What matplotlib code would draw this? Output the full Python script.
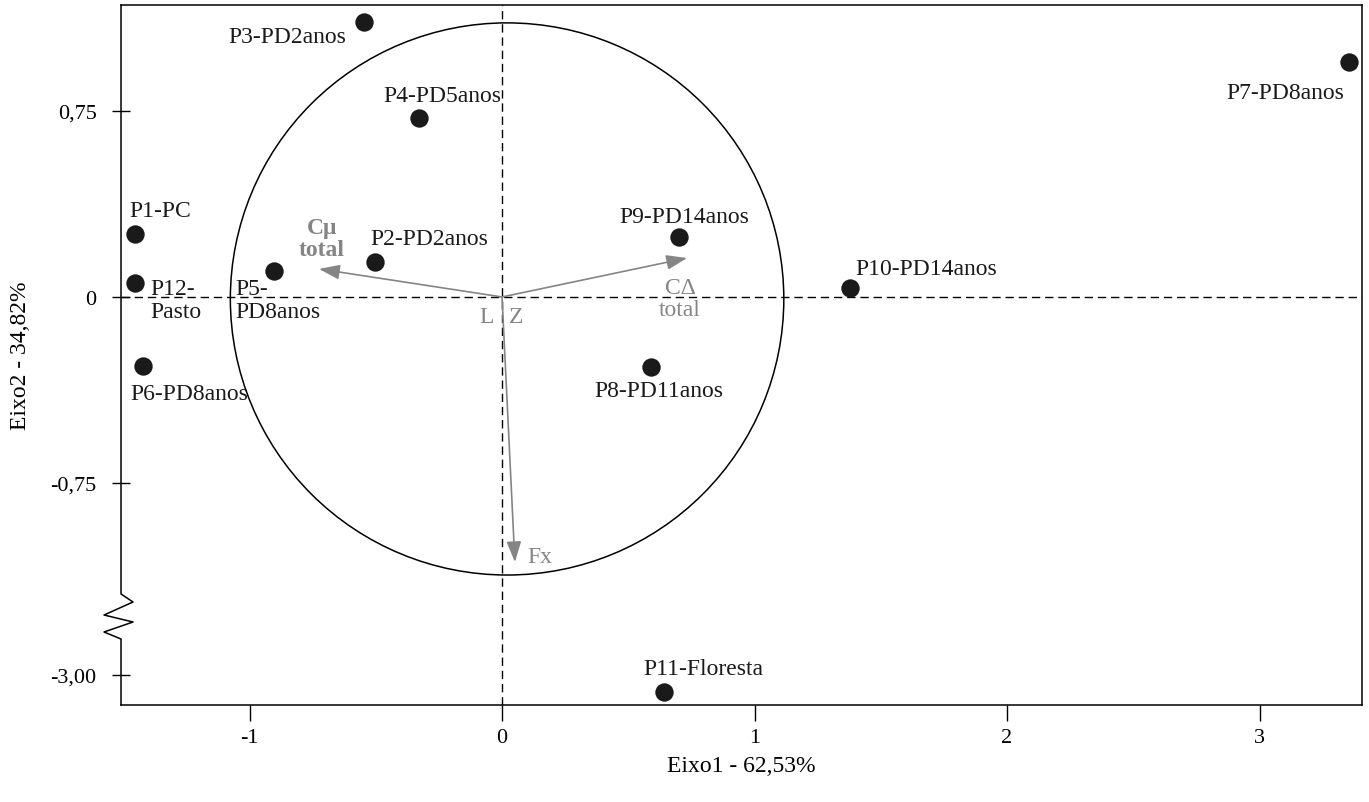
import matplotlib
matplotlib.use("Agg")
import matplotlib.pyplot as plt
from matplotlib.patches import Ellipse

plt.rcParams["font.family"] = ["Liberation Serif", "DejaVu Serif"]

# site scores (Eixo1, Eixo2); values below the axis break are real values
sites = ["P1-PC", "P2-PD2anos", "P3-PD2anos", "P4-PD5anos", "P5-\nPD8anos",
         "P6-PD8anos", "P7-PD8anos", "P8-PD11anos", "P9-PD14anos",
         "P10-PD14anos", "P11-Floresta", "P12-\nPasto"]
eixo1 = [-1.453, -0.503, -0.547, -0.329, -0.903, -1.422, 3.354, 0.590, 0.701,
         1.378, 0.642, -1.453]
eixo2 = [0.254, 0.141, 1.110, 0.722, 0.105, -0.278, 0.948, -0.282, 0.242,
         0.036, -3.069, 0.056]

# variable loadings
variables = ["C\u03bc\ntotal", "C\u0394\ntotal", "Fx", "L", "Z"]
load1 = [-0.725, 0.733, 0.051, 0.0, 0.0]
load2 = [0.113, 0.157, -1.069, 0.0, 0.0]

yticks = [0.75, 0, -0.75, -3.00]
ytick_labels = ["0,75", "0", "-0,75", "-3,00"]
xticks = [-1, 0, 1, 2, 3]

# axis break: values at/below -3.00 are drawn shifted up by this amount
BREAK_SHIFT = 1.476


def to_display(y):
    return y + BREAK_SHIFT if y < -1.5 else y


# label placement (offset in points, alignment)
site_offsets = {
    "P1-PC": (18, 17, "center"), "P2-PD2anos": (39, 17, "center"),
    "P3-PD2anos": (-55, -11, "center"), "P4-PD5anos": (17, 16, "center"),
    "P5-\nPD8anos": (-28, -21, "left"), "P6-PD8anos": (33, -20, "center"),
    "P7-PD8anos": (-46, -22, "center"), "P8-PD11anos": (6, -17, "center"),
    "P9-PD14anos": (4, 15, "center"), "P10-PD14anos": (4, 14, "left"),
    "P11-Floresta": (28, 17, "center"), "P12-\nPasto": (11, -12, "left"),
}
var_offsets = {
    "C\u03bc\ntotal": (2, 22, "center"), "C\u0394\ntotal": (-5, -29, "center"),
    "Fx": (9, 4, "left"), "L": (-11, -14, "center"), "Z": (10, -14, "center"),
}

fig = plt.figure(figsize=(13.69, 8.03), dpi=100)
ax = fig.add_axes([0.0884, 0.1208, 0.9065, 0.8717])

ax.axhline(0, color="black", lw=1, dashes=(6, 3.5), zorder=1)
ax.axvline(0, color="black", lw=1, dashes=(6, 3.5), zorder=1)

ax.add_patch(Ellipse((0.02, -0.008), 2 * 1.096, 2 * 1.113, fill=False,
                     edgecolor="black", lw=1.1, zorder=1))

gray = "#858585"
for name, lx, ly in zip(variables, load1, load2):
    if abs(lx) + abs(ly) > 0.05:
        ax.annotate("", xy=(lx, ly), xytext=(0, 0),
                    arrowprops=dict(arrowstyle="-|>,head_length=0.9,head_width=0.32",
                                    mutation_scale=14, color=gray, lw=1.2,
                                    shrinkA=0, shrinkB=0), zorder=2)
    dx, dy, ha = var_offsets[name]
    ax.annotate(name, xy=(lx, ly), xytext=(dx, dy), textcoords="offset points",
                ha=ha, va="center", color=gray, fontsize=17, linespacing=1.05,
                fontweight="bold" if "\u03bc" in name else "normal")

ys = [to_display(v) for v in eixo2]
ax.scatter(eixo1, ys, s=175, color="#1a1a1a", zorder=3, linewidths=0)
for name, x, y in zip(sites, eixo1, ys):
    dx, dy, ha = site_offsets[name]
    ax.annotate(name, xy=(x, y), xytext=(dx, dy), textcoords="offset points",
                ha=ha, va="center", fontsize=17, color="#1a1a1a",
                linespacing=1.1)

ax.set_xlim(-1.509, 3.406)
ax.set_ylim(-1.645, 1.177)
ax.set_xticks(xticks)
ax.set_xticklabels([str(t) for t in xticks])
ax.set_yticks([to_display(t) if t < -1.5 else t for t in yticks])
ax.set_yticklabels(ytick_labels)
ax.tick_params(axis="x", direction="out", length=11.5, width=1, labelsize=16, pad=5)
ax.tick_params(axis="y", direction="inout", length=13, width=1, labelsize=16, pad=11)

for side in ("top", "right", "bottom"):
    ax.spines[side].set_linewidth(1.1)
ax.spines["left"].set_visible(False)

# left spine with zigzag break
w, h = 1241.0, 700.0
zx = [0, 0, 12, -17, 12, -17, 0, 0]
zy = [700, 111, 103, 90, 83, 73, 66, 0]
ax.plot([v / w for v in zx], [v / h for v in zy], transform=ax.transAxes,
        color="black", lw=1.1, clip_on=False, zorder=5)

ax.set_xlabel("Eixo1 - 62,53%", fontsize=17, labelpad=6)
ax.set_ylabel("Eixo2 - 34,82%", fontsize=17, labelpad=14)

fig.savefig("out.png", dpi=100)
